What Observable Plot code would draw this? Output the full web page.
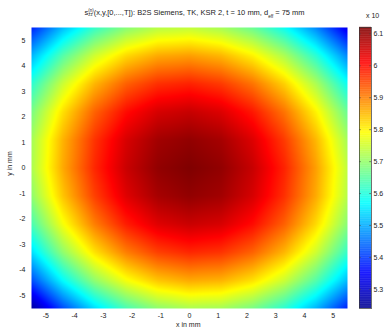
<!DOCTYPE html>
<html><head><meta charset="utf-8">
<script src="https://cdn.jsdelivr.net/npm/d3@7"></script>
<script src="https://cdn.jsdelivr.net/npm/@observablehq/plot@0.6"></script>
<style>
body{margin:0;background:#fff;}
#wrap{position:relative;width:389px;height:331px;font-family:"Liberation Sans",Arial,sans-serif;color:#222;overflow:hidden;}
#wrap svg{position:absolute;top:0;}
.lab{position:absolute;font-size:7.5px;white-space:nowrap;}
#title{left:0;width:389px;top:8px;text-align:center;font-size:7.5px;}
.ss{display:inline-block;vertical-align:middle;line-height:4.5px;font-size:4.5px;text-align:left;}
</style></head><body>
<div id="wrap">
<div class="lab" id="title">s<span class="ss">(n)<br>zz</span>(x,y,[0,...,T]): B2S Siemens, TK, KSR 2, t = 10 mm, d<sub style="font-size:4.5px">eff</sub> = 75 mm</div>
<div class="lab" style="left:176px;top:321px;font-size:7px;">x in mm</div>
<div class="lab" style="left:-11px;top:160px;transform:rotate(-90deg);transform-origin:center;width:40px;text-align:center;font-size:7px;">y in mm</div>
<div class="lab" style="left:366px;top:12px;font-size:7px;">x 10</div>
</div>
<script>
// grid coordinates (mm)
const gridX = [-5.5, -4.4, -3.3, -2.2, -1.1, 0, 1.1, 2.2, 3.3, 4.4, 5.5];
const gridY = [5.5, 4.4, 3.3, 2.2, 1.1, 0, -1.1, -2.2, -3.3, -4.4, -5.5];
// values, one row per y (top to bottom)
const rowY5_5  = [5.376, 5.512, 5.615, 5.686, 5.727, 5.736, 5.713, 5.661, 5.579, 5.467, 5.326];
const rowY4_4  = [5.506, 5.644, 5.749, 5.822, 5.863, 5.873, 5.852, 5.800, 5.719, 5.607, 5.467];
const rowY3_3  = [5.606, 5.746, 5.853, 5.927, 5.969, 5.981, 5.960, 5.910, 5.830, 5.719, 5.579];
const rowY2_2  = [5.674, 5.816, 5.925, 6.001, 6.045, 6.058, 6.039, 5.990, 5.910, 5.800, 5.661];
const rowY1_1  = [5.712, 5.856, 5.966, 6.044, 6.090, 6.104, 6.087, 6.039, 5.960, 5.852, 5.713];
const rowY0    = [5.718, 5.864, 5.977, 6.056, 6.104, 6.120, 6.104, 6.058, 5.981, 5.873, 5.736];
const rowYm1_1 = [5.692, 5.840, 5.955, 6.037, 6.086, 6.104, 6.090, 6.045, 5.969, 5.863, 5.727];
const rowYm2_2 = [5.632, 5.783, 5.901, 5.986, 6.037, 6.056, 6.044, 6.001, 5.927, 5.822, 5.687];
const rowYm3_3 = [5.541, 5.695, 5.814, 5.901, 5.955, 5.977, 5.966, 5.925, 5.853, 5.749, 5.615];
const rowYm4_4 = [5.415, 5.571, 5.695, 5.783, 5.840, 5.864, 5.856, 5.816, 5.746, 5.644, 5.512];
const rowYm5_5 = [5.256, 5.415, 5.541, 5.632, 5.692, 5.718, 5.712, 5.674, 5.606, 5.506, 5.376];
const xTicks = [-5, -4, -3, -2, -1, 0, 1, 2, 3, 4, 5];
const yTicks = [-5, -4, -3, -2, -1, 0, 1, 2, 3, 4, 5];
const cbTicks = [5.3, 5.4, 5.5, 5.6, 5.7, 5.8, 5.9, 6.0, 6.1];
const cbDomain = [5.24, 6.12];

const rows = [rowY5_5,rowY4_4,rowY3_3,rowY2_2,rowY1_1,rowY0,rowYm1_1,rowYm2_2,rowYm3_3,rowYm4_4,rowYm5_5];
const points = [];
rows.forEach((r, j) => r.forEach((v, i) => points.push({x: gridX[i], y: gridY[j], v})));

const [c0, c1] = cbDomain, sp = c1 - c0;
const color = {type: "linear", domain: [c0, c0 + 0.125*sp, c0 + 0.375*sp, c0 + 0.625*sp, c0 + 0.875*sp, c1],
  range: ["#00008f", "#0000ff", "#00ffff", "#ffff00", "#ff0000", "#800000"], clamp: true};
const font = {fontFamily: '"Liberation Sans", Arial, sans-serif', fontSize: "7px", color: "#222", background: "transparent"};

const main = Plot.plot({
  width: 389, height: 331, marginTop: 27, marginBottom: 23, marginLeft: 31, marginRight: 42,
  style: font,
  x: {domain: [-5.5, 5.5]},
  y: {domain: [-5.5, 5.5]},
  color,
  marks: [
    Plot.raster(points, {x: "x", y: "y", fill: "v", interpolate: "barycentric", pixelSize: 1}),
    Plot.axisX({ticks: xTicks, tickSize: 0, tickPadding: 5, label: null, tickFormat: d => String(d)}),
    Plot.axisY({ticks: yTicks, tickSize: 0, tickPadding: 6, label: null, tickFormat: d => String(d)})
  ]
});

const steps = d3.range(c0, c1, 0.002);
const cb = Plot.plot({
  width: 30, height: 331, marginTop: 27, marginBottom: 23, marginLeft: 0, marginRight: 18,
  style: font,
  x: {domain: [0, 1], axis: null},
  y: {domain: cbDomain},
  color,
  marks: [
    Plot.rect(steps, {x1: 0, x2: 1, y1: d => d, y2: d => d + 0.0025, fill: d => d + 0.001}),
    Plot.ruleY(cbTicks, {x1: 0, x2: 0.15, stroke: "#444", strokeOpacity: 0.6}),
    Plot.ruleY(cbTicks, {x1: 0.85, x2: 1, stroke: "#444", strokeOpacity: 0.6}),
    Plot.axisY({anchor: "right", ticks: cbTicks, tickSize: 0, tickPadding: 2, label: null, tickFormat: d => String(d)}),
    Plot.frame({stroke: "#333", strokeOpacity: 0.7})
  ]
});
cb.style.left = "359px";
const wrap = document.getElementById("wrap");
wrap.prepend(cb);
wrap.prepend(main);
</script>
</body></html>
